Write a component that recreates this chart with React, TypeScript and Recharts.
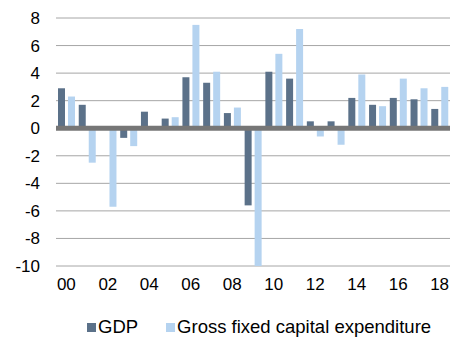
import { BarChart, Bar, XAxis, YAxis, CartesianGrid, ReferenceLine, Legend } from 'recharts';

const YEARS = ['00', '01', '02', '03', '04', '05', '06', '07', '08', '09', '10', '11', '12', '13', '14', '15', '16', '17', '18'];
const GDP = [2.9, 1.7, 0.0, -0.7, 1.2, 0.7, 3.7, 3.3, 1.1, -5.6, 4.1, 3.6, 0.5, 0.5, 2.2, 1.7, 2.2, 2.1, 1.4];
const GFCE = [2.3, -2.5, -5.7, -1.3, 0.0, 0.8, 7.5, 4.1, 1.5, -10.0, 5.4, 7.2, -0.6, -1.2, 3.9, 1.6, 3.6, 2.9, 3.0];
const Y_TICKS = [-10, -8, -6, -4, -2, 0, 2, 4, 6, 8];

const SERIES = [
  { key: 'gdp', name: 'GDP', color: '#5b7189' },
  { key: 'gfce', name: 'Gross fixed capital expenditure', color: '#b5d3f0' },
];

const data = YEARS.map((year, i) => ({ year, gdp: GDP[i], gfce: GFCE[i] }));

const FONT = '"Liberation Sans", Arial, sans-serif';
const TICK = { fill: '#000', fontSize: 17, fontFamily: FONT };

function LegendContent() {
  return (
    <div style={{ display: 'flex', paddingLeft: 87, height: 24, fontFamily: FONT, fontSize: 18.5, color: '#000' }}>
      {SERIES.map((s) => (
        <div key={s.key} style={{ display: 'flex', alignItems: 'center', marginLeft: s.key === 'gdp' ? 0 : 28 }}>
          <span style={{ display: 'inline-block', width: 9, height: 9, background: s.color, marginRight: 2 }} />
          <span>{s.name}</span>
        </div>
      ))}
    </div>
  );
}

export default function App() {
  return (
    <div style={{ position: 'absolute', left: 0, top: 0, background: '#fff' }}>
      <BarChart width={451} height={340} data={data} margin={{ top: 18, right: 1, left: 6, bottom: 1 }} barSize={7} barGap={3}>
        <CartesianGrid vertical={false} stroke="#a6a6a6" />
        <XAxis
          dataKey="year"
          interval={1}
          axisLine={false}
          tickLine={false}
          tickMargin={6}
          tick={TICK}
          height={49}
        />
        <YAxis
          domain={[-10, 8]}
          ticks={Y_TICKS}
          axisLine={false}
          tickLine={false}
          tickMargin={10}
          tick={TICK}
          width={50}
        />
        {SERIES.map((s) => (
          <Bar key={s.key} dataKey={s.key} name={s.name} fill={s.color} isAnimationActive={false} />
        ))}
        <ReferenceLine y={0} stroke="#767676" strokeWidth={5} />
        <Legend verticalAlign="bottom" content={<LegendContent />} wrapperStyle={{ left: 0, width: 451 }} />
      </BarChart>
    </div>
  );
}
